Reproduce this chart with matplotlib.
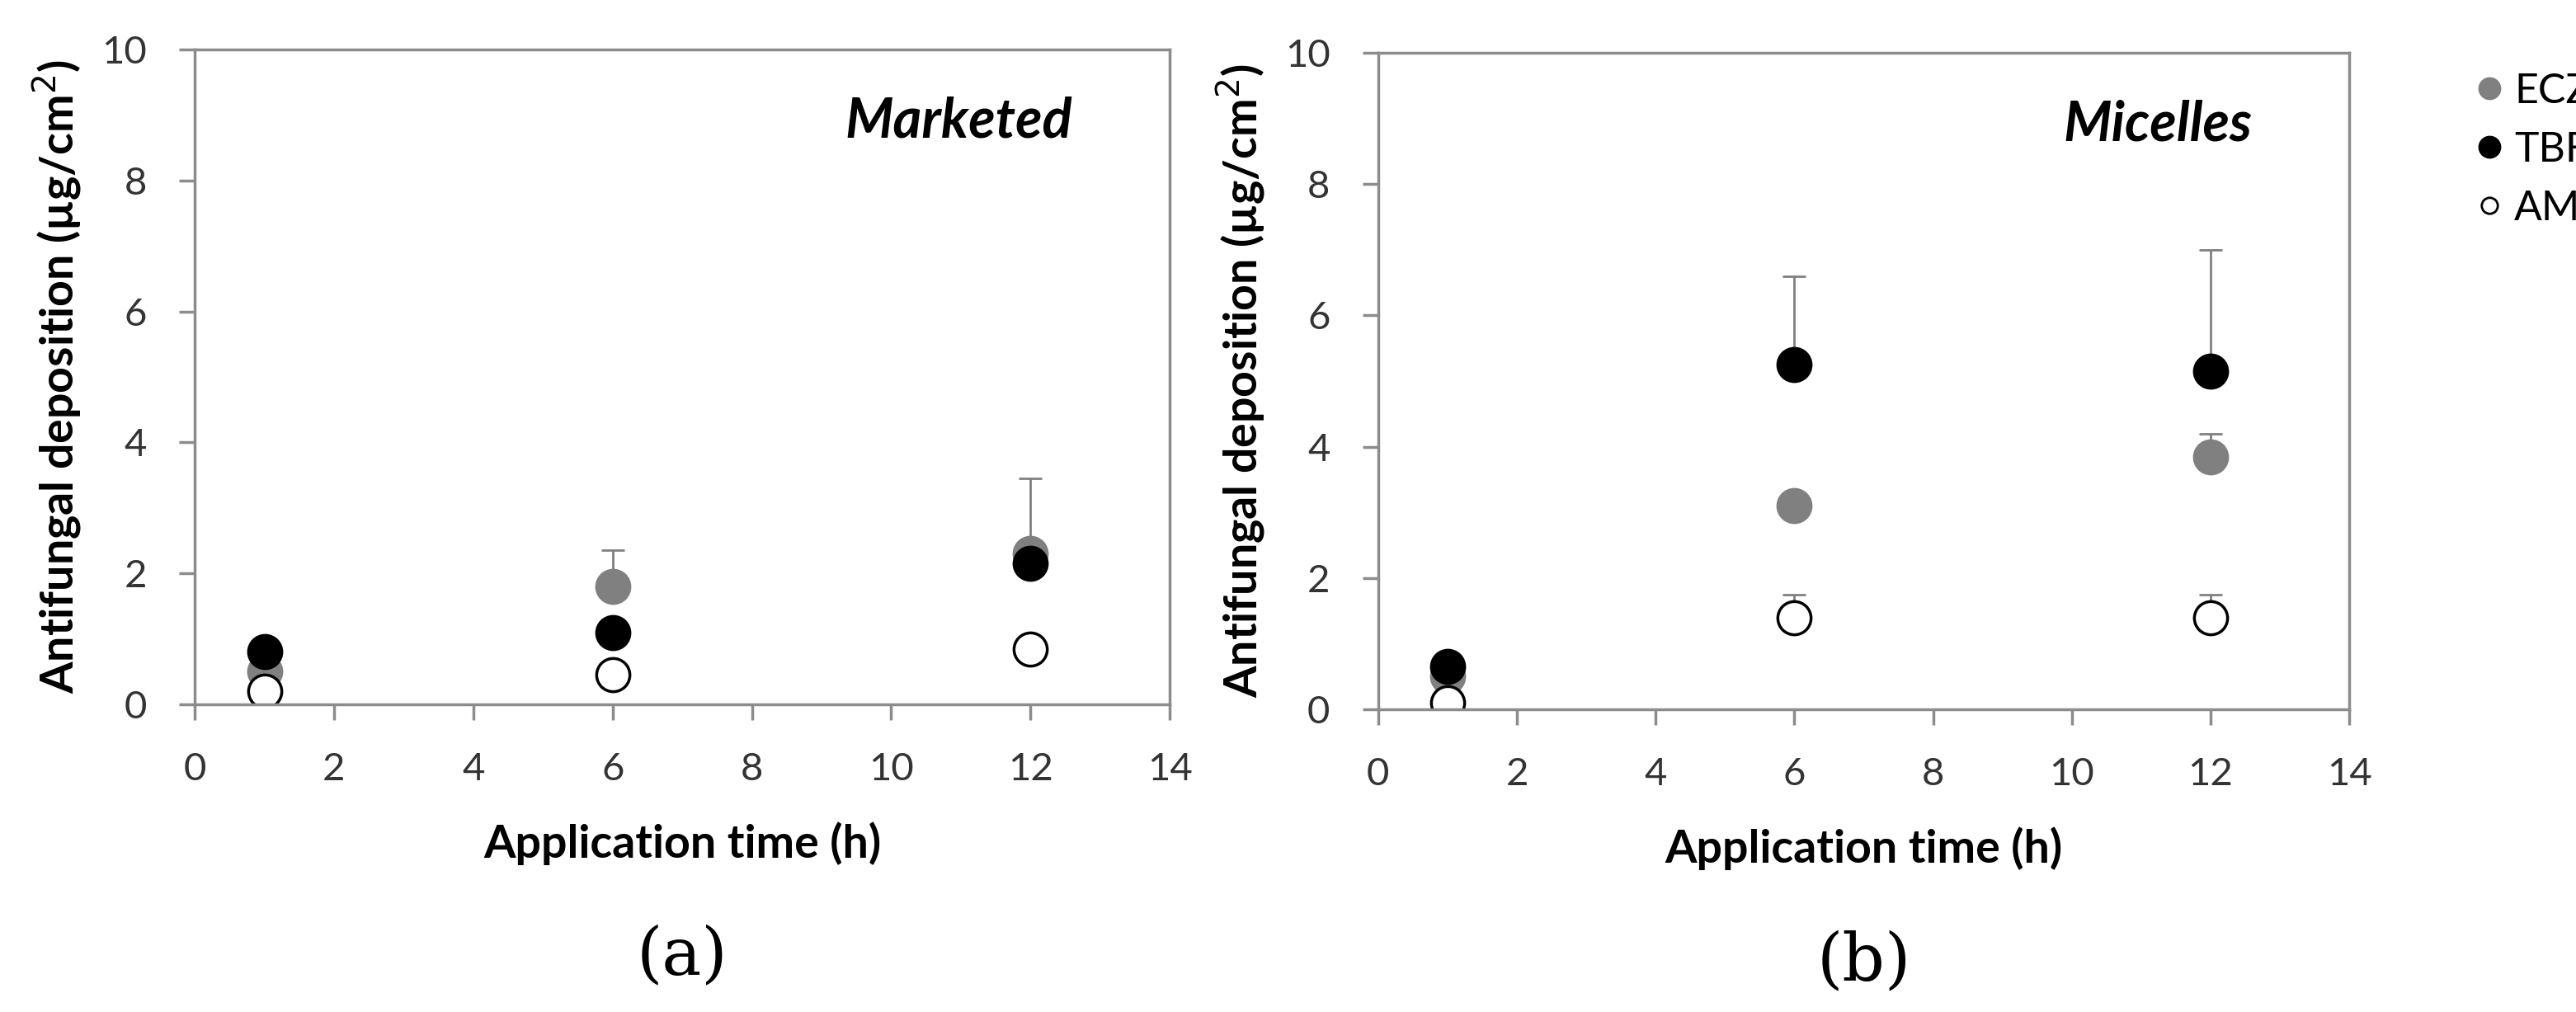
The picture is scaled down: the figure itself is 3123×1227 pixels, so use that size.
import matplotlib
matplotlib.use("Agg")
from matplotlib import pyplot as plt
from matplotlib.lines import Line2D

plt.rcParams['font.family'] = ['Lato', 'DejaVu Sans']

# data
times = [1, 6, 12]
ecz_a = [0.5, 1.8, 2.3]
ecz_a_err = [0.0, 0.55, 1.15]
tbf_a = [0.8, 1.1, 2.15]
tbf_a_err = [0.0, 0.0, 0.0]
amf_a = [0.2, 0.45, 0.85]
amf_a_err = [0.0, 0.08, 0.1]

ecz_b = [0.5, 3.1, 3.85]
ecz_b_err = [0.0, 0.0, 0.35]
tbf_b = [0.65, 5.25, 5.15]
tbf_b_err = [0.0, 1.35, 1.85]
amf_b = [0.1, 1.4, 1.4]
amf_b_err = [0.15, 0.35, 0.35]

series = ['ECZ', 'TBF', 'AMF']
face = ['#808080', 'black', 'white']
edge = ['#808080', 'black', 'black']

fig = plt.figure(figsize=(31.23, 12.27), dpi=100)
ax1 = fig.add_axes([0.0756, 0.304, 0.3785, 0.647])
ax2 = fig.add_axes([0.535, 0.299, 0.377, 0.649])

def panel(ax, ecz, ecze, tbf, tbfe, amf, amfe, title, letter):
    for y, e, fc, ec in zip([ecz, tbf, amf], [ecze, tbfe, amfe], face, edge):
        ax.errorbar(times, y, yerr=[[0]*len(e), e], fmt='none', ecolor='#808080',
                    elinewidth=2, capsize=10, capthick=2)
        ax.plot(times, y, 'o', ms=29, mfc=fc, mec=ec, mew=2.5, linestyle='none')
    ax.set_xlim(0, 14)
    ax.set_ylim(0, 10)
    ax.set_xticks(range(0, 15, 2))
    ax.set_yticks(range(0, 11, 2))
    for s in ax.spines.values():
        s.set_color('#8c8c8c')
        s.set_linewidth(2.5)
    ax.tick_params(labelsize=34, color='#8c8c8c', width=2.5, length=14, pad=28, labelcolor='#333333')
    ax.set_xlabel('Application time (h)', fontsize=40, fontweight='bold', labelpad=30)
    ax.set_ylabel('Antifungal deposition (µg/cm$^2$)', fontsize=40, fontweight='bold', labelpad=15)
    ax.text(0.9, 0.89, title, transform=ax.transAxes, fontsize=48, fontweight='bold',
            style='italic', ha='right', va='center')
    ax.text(0.5, -0.385, letter, transform=ax.transAxes, fontsize=58, family='DejaVu Serif',
            ha='center', va='center')

panel(ax1, ecz_a, ecz_a_err, tbf_a, tbf_a_err, amf_a, amf_a_err, 'Marketed', '(a)')
panel(ax2, ecz_b, ecz_b_err, tbf_b, tbf_b_err, amf_b, amf_b_err, 'Micelles', '(b)')

handles = [Line2D([], [], marker='o', ls='none', ms=18 if fc != 'white' else 14,
                  mfc=fc, mec=ec, mew=2) for fc, ec in zip(face, edge)]
fig.legend(handles, series, loc='upper left', bbox_to_anchor=(0.944, 0.965), frameon=False,
           fontsize=36, handletextpad=0.1, labelspacing=0.5, handlelength=1.0)

fig.savefig('out.png', dpi=100)
